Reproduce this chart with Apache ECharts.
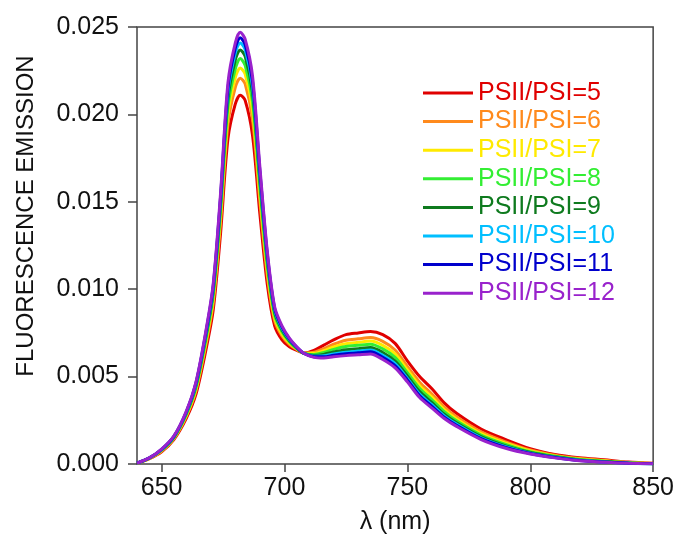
<!DOCTYPE html>
<html>
<head>
<meta charset="utf-8">
<script src="https://cdn.jsdelivr.net/npm/echarts@6/dist/echarts.min.js"></script>
<style>
  html, body { margin: 0; padding: 0; background: #fff; }
  #chart { width: 677px; height: 541px; }
</style>
</head>
<body>
<div id="chart"></div>
<script>
// wavelength grid (nm)
var wavelength = [640, 645, 650, 655, 660, 664, 668, 671, 674, 677, 680, 682, 684, 687, 690, 693, 696, 699, 702, 705,
  708, 712, 716, 720, 725, 730, 735, 740, 745, 750, 755, 760, 765, 770, 780, 790, 800, 810, 820, 830, 840, 850];

var seriesNames = ['PSII/PSI=5', 'PSII/PSI=6', 'PSII/PSI=7', 'PSII/PSI=8', 'PSII/PSI=9', 'PSII/PSI=10', 'PSII/PSI=11', 'PSII/PSI=12'];
var seriesColors = ['#e00000', '#ff8a1c', '#ffea00', '#33ee33', '#0e7a1e', '#00bfff', '#0000cc', '#9922cc'];

var ratio5 = [0.00004, 0.0003, 0.0007, 0.0014, 0.0026, 0.0040, 0.0065, 0.0088, 0.0132, 0.0186, 0.0206, 0.0211, 0.0208, 0.0188, 0.0143, 0.0103, 0.0079, 0.0071, 0.0067, 0.0065,
  0.00635, 0.0065, 0.0068, 0.0071, 0.0074, 0.0075, 0.00758, 0.0074, 0.0069, 0.0059, 0.0050, 0.0043, 0.0035, 0.0029, 0.0020, 0.0014, 0.00088, 0.00055, 0.00036, 0.00024, 0.00011, 0.00004];
var ratio6 = [0.00004, 0.00031, 0.00074, 0.00145, 0.00271, 0.00419, 0.0068, 0.00921, 0.01382, 0.01946, 0.02155, 0.02207, 0.02175, 0.01972, 0.01503, 0.01081, 0.0082, 0.00732, 0.00684, 0.00655,
  0.00634, 0.00639, 0.0066, 0.00685, 0.00708, 0.00716, 0.00723, 0.00702, 0.00652, 0.00558, 0.00468, 0.0040, 0.00326, 0.0027, 0.00184, 0.00127, 0.0008, 0.0005, 0.00031, 0.0002, 0.00009, 0.00003];
var ratio7 = [0.00004, 0.00032, 0.00076, 0.00149, 0.00277, 0.0043, 0.00697, 0.00945, 0.01419, 0.01998, 0.02211, 0.02265, 0.02231, 0.02026, 0.01546, 0.01112, 0.00837, 0.00744, 0.00692, 0.00659,
  0.00634, 0.00633, 0.00648, 0.0067, 0.00688, 0.00696, 0.00703, 0.00679, 0.0063, 0.00538, 0.00448, 0.00383, 0.00311, 0.00258, 0.00174, 0.00119, 0.00075, 0.00046, 0.00028, 0.00018, 0.00008, 0.00003];
var ratio8 = [0.00005, 0.00033, 0.00079, 0.00151, 0.00283, 0.0044, 0.00713, 0.00966, 0.01451, 0.02042, 0.0226, 0.0232, 0.0228, 0.02074, 0.01584, 0.01138, 0.00853, 0.00756, 0.00699, 0.00661,
  0.00633, 0.00627, 0.00638, 0.00656, 0.00672, 0.00679, 0.00685, 0.00659, 0.0061, 0.00522, 0.00432, 0.00367, 0.003, 0.00247, 0.00166, 0.00112, 0.0007, 0.00044, 0.00026, 0.00016, 0.00007, 0.00002];
var ratio9 = [0.00005, 0.00034, 0.00081, 0.00154, 0.00289, 0.0045, 0.00729, 0.00988, 0.01486, 0.0209, 0.02312, 0.02369, 0.02332, 0.02125, 0.01624, 0.01167, 0.00869, 0.00768, 0.00706, 0.00664,
  0.00633, 0.00621, 0.00627, 0.00641, 0.00654, 0.0066, 0.00666, 0.00638, 0.00589, 0.00504, 0.00414, 0.00351, 0.00285, 0.00236, 0.00157, 0.00104, 0.00066, 0.00041, 0.00023, 0.00014, 0.00006, 0.00002];
var ratio10 = [0.00005, 0.00034, 0.00082, 0.00157, 0.00293, 0.00458, 0.00741, 0.01005, 0.01511, 0.02126, 0.02351, 0.02409, 0.02371, 0.02162, 0.01654, 0.01188, 0.00881, 0.00776, 0.00712, 0.00667,
  0.00633, 0.00617, 0.00619, 0.0063, 0.0064, 0.00646, 0.00652, 0.00622, 0.00574, 0.0049, 0.004, 0.00339, 0.00275, 0.00228, 0.0015, 0.00099, 0.00062, 0.00038, 0.00021, 0.00012, 0.00005, 0.00002];
var ratio11 = [0.00005, 0.00035, 0.00084, 0.00158, 0.00296, 0.00464, 0.0075, 0.01017, 0.01529, 0.02151, 0.02379, 0.02438, 0.02399, 0.02189, 0.01676, 0.01203, 0.0089, 0.00783, 0.00716, 0.00668,
  0.00632, 0.00614, 0.00613, 0.00622, 0.00631, 0.00636, 0.00642, 0.00611, 0.00563, 0.00481, 0.00391, 0.0033, 0.00268, 0.00222, 0.00145, 0.00095, 0.0006, 0.00037, 0.0002, 0.00011, 0.00005, 0.00001];
var ratio12 = [0.00005, 0.00035, 0.00085, 0.0016, 0.0030, 0.0047, 0.0076, 0.0103, 0.0155, 0.0218, 0.0241, 0.0247, 0.0243, 0.0222, 0.0170, 0.0122, 0.0090, 0.0079, 0.0072, 0.0067,
  0.00632, 0.0061, 0.00606, 0.00613, 0.0062, 0.00625, 0.0063, 0.00598, 0.0055, 0.0047, 0.0038, 0.0032, 0.0026, 0.00215, 0.0014, 0.0009, 0.00057, 0.00035, 0.00018, 0.0001, 0.00004, 0.00001];

var allValues = [ratio5, ratio6, ratio7, ratio8, ratio9, ratio10, ratio11, ratio12];

var xTicks = [650, 700, 750, 800, 850];

var chart = echarts.init(document.getElementById('chart'));
var font = 'Liberation Sans, Arial, Helvetica, sans-serif';

var series = allValues.map(function(vals, i) {
  return {
    name: seriesNames[i],
    type: 'line',
    data: wavelength.map(function(w, j) { return [w, vals[j]]; }),
    showSymbol: false,
    smooth: 0.3,
    lineStyle: { width: 3, color: seriesColors[i] },
    itemStyle: { color: seriesColors[i] }
  };
});

var option = {
  animation: false,
  backgroundColor: '#fff',
  textStyle: { fontFamily: font },
  grid: {
    left: 137, right: 23, top: 27, bottom: 77,
    show: true, borderColor: '#444', borderWidth: 1.5
  },
  legend: {
    orient: 'vertical',
    left: 423, top: 80,
    padding: 0,
    icon: 'rect',
    itemWidth: 50, itemHeight: 3,
    itemGap: 2.6,
    textStyle: { fontSize: 25, lineHeight: 26, fontFamily: font },
    data: seriesNames.map(function(n, i) {
      return { name: n, textStyle: { color: seriesColors[i] } };
    })
  },
  xAxis: {
    type: 'value',
    min: 640, max: 850,
    name: 'λ (nm)',
    nameLocation: 'middle',
    nameGap: 46,
    nameTextStyle: { fontSize: 25, color: '#111', fontFamily: font },
    axisLine: { show: false },
    axisTick: { show: true, length: 8, inside: false, customValues: xTicks, lineStyle: { color: '#444', width: 1.5 } },
    axisLabel: { fontSize: 25, color: '#111', margin: 12, customValues: xTicks },
    splitLine: { show: false }
  },
  yAxis: {
    type: 'value',
    min: 0, max: 0.025, interval: 0.005,
    name: 'FLUORESCENCE EMISSION',
    nameLocation: 'middle',
    nameGap: 99,
    nameTextStyle: { fontSize: 24, color: '#111', fontFamily: font, padding: [0, 0, 0, 59] },
    axisLine: { show: false },
    axisTick: { show: true, length: 9, inside: false, lineStyle: { color: '#444', width: 1.5 } },
    axisLabel: {
      fontSize: 25, color: '#111', margin: 18,
      formatter: function(v) { return v.toFixed(3); }
    },
    splitLine: { show: false }
  },
  series: series
};

chart.setOption(option);

window.onresize = function() {
  chart.resize();
};
</script>
</body>
</html>
